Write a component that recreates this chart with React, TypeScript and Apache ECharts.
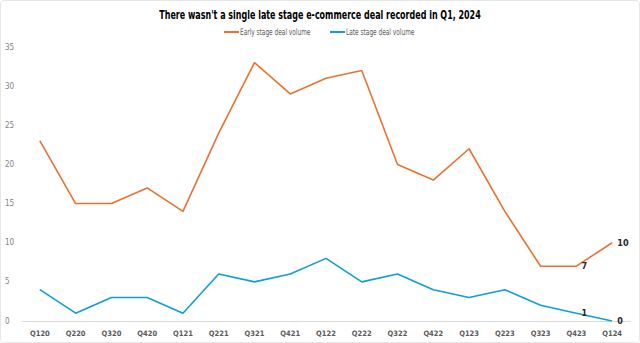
import React, { useEffect, useRef } from "react";
import * as echarts from "echarts";

const categories = ["Q120","Q220","Q320","Q420","Q121","Q221","Q321","Q421","Q122","Q222","Q322","Q422","Q123","Q223","Q323","Q423","Q124"];
const earlyStage = [23,15,15,17,14,24,33,29,31,32,20,18,22,14,7,7,10];
const lateStage = [4,1,3,3,1,6,5,6,8,5,6,4,3,4,2,1,0];
const seriesNames = ["Early stage deal volume", "Late stage deal volume"];
const seriesColors = ["#E97132", "#0F9ED5"];
const labeledFrom = 15;
const titleText = "There wasn't a single late stage e-commerce deal recorded in Q1, 2024";

const narrow = "'DejaVu Sans Condensed', 'Liberation Sans Narrow', sans-serif";

export default function App() {
  const ref = useRef<HTMLDivElement>(null);
  useEffect(() => {
    document.body.style.margin = "0";
    const chart = echarts.init(ref.current!, null, { renderer: "svg" });
    const mk = (vals: number[]) =>
      vals.map((v, i) =>
        i >= labeledFrom
          ? { value: v, label: { show: true, position: "right", distance: 5, color: "#262626", fontWeight: "bold", fontSize: 9, fontFamily: narrow } }
          : v
      );
    const legendX = [223, 329];
    const legendItems = seriesNames.flatMap((name, k) => [
      {
        type: "line",
        shape: { x1: legendX[k], y1: 31, x2: legendX[k] + 15, y2: 31 },
        style: { stroke: seriesColors[k], lineWidth: 2 },
      },
      {
        type: "text",
        x: legendX[k] + 16,
        y: 31,
        scaleX: 0.72,
        style: {
          text: name,
          fontFamily: narrow,
          fontSize: 9,
          fill: "#595959",
          textAlign: "left",
          textVerticalAlign: "middle",
        },
      },
    ]);
    chart.setOption({
      animation: false,
      backgroundColor: "#ffffff",
      graphic: [
        {
          type: "text",
          x: 319,
          y: 13,
          scaleX: 0.74,
          style: {
            text: titleText,
            fontFamily: narrow,
            fontWeight: "bold",
            fontSize: 12,
            fill: "#000000",
            textAlign: "center",
            textVerticalAlign: "middle",
          },
        },
        ...legendItems,
      ],
      grid: { left: 21, right: 9, top: 46, bottom: 21, containLabel: false },
      xAxis: {
        type: "category",
        data: categories,
        boundaryGap: true,
        axisLine: { lineStyle: { color: "#d9d9d9" } },
        axisTick: { show: false },
        axisLabel: { color: "#595959", fontFamily: narrow, fontWeight: "bold", fontSize: 7.5, margin: 8 },
      },
      yAxis: {
        type: "value",
        min: 0,
        max: 35,
        interval: 5,
        splitLine: { show: false },
        axisLine: { show: false },
        axisTick: { show: false },
        axisLabel: { color: "#7f7f7f", fontFamily: narrow, fontSize: 8, margin: 8, align: "left", padding: [0, 0, 0, -9] },
      },
      series: [
        {
          name: seriesNames[0],
          type: "line",
          data: mk(earlyStage),
          symbol: "circle",
          symbolSize: 0.5,
          showSymbol: true,
          lineStyle: { color: seriesColors[0], width: 1.6 },
          itemStyle: { color: seriesColors[0] },
        },
        {
          name: seriesNames[1],
          type: "line",
          data: mk(lateStage),
          symbol: "circle",
          symbolSize: 0.5,
          showSymbol: true,
          lineStyle: { color: seriesColors[1], width: 1.6 },
          itemStyle: { color: seriesColors[1] },
        },
      ],
    });
    return () => chart.dispose();
  }, []);
  return (
    <div
      style={{
        position: "fixed",
        left: 0,
        top: 0,
        width: 640,
        height: 343,
        boxSizing: "border-box",
        border: "1px solid #e6e6e6",
        borderRadius: 4,
        overflow: "hidden",
        background: "#fff",
      }}
    >
      <div ref={ref} style={{ width: 638, height: 341 }} />
    </div>
  );
}
